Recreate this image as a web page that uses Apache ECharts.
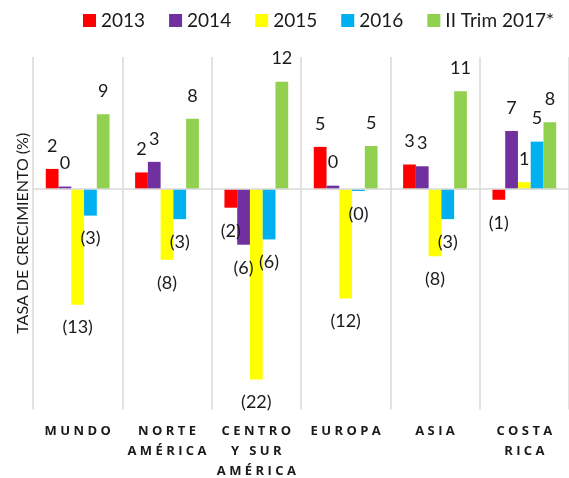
<!DOCTYPE html>
<html>
<head>
<meta charset="utf-8">
<script src="https://cdn.jsdelivr.net/npm/echarts@6/dist/echarts.min.js"></script>
<style>
  html, body { margin: 0; padding: 0; background: #fff; }
  #chart { width: 569px; height: 478px; }
</style>
</head>
<body>
<div id="chart"></div>
<script>
const regions = ['MUNDO', 'NORTE\nAMÉRICA', 'CENTRO\nY SUR\nAMÉRICA', 'EUROPA', 'ASIA', 'COSTA\nRICA']
const seriesNames = ['2013', '2014', '2015', '2016', 'II Trim 2017*']
const colors = ['#FF0000', '#7030A0', '#FFFF00', '#00B0F0', '#92D050']

// growth rates, one array per year
const v2013 = [2.3, 1.9, -2.1, 4.8, 2.8, -1.2]
const v2014 = [0.3, 3.1, -6.3, 0.4, 2.6, 6.6]
const v2015 = [-13.1, -8.0, -21.6, -12.4, -7.6, 0.8]
const v2016 = [-3.0, -3.4, -5.7, -0.2, -3.4, 5.4]
const v2017 = [8.5, 8.0, 12.2, 4.9, 11.1, 7.6]
const values = [v2013, v2014, v2015, v2016, v2017]

const font = 'Lato, "Open Sans", sans-serif'
const ink = '#1a1a1a'
const rule = '#d9d9d9'

// excel style: negatives in brackets, rounded to whole numbers
function fmt(v) {
  return v < 0 ? '(' + Math.round(-v) + ')' : String(Math.round(v))
}

// letter-spaced caps for the category labels
function spaced(s) {
  return s.split('\n')
    .map(line => line.split('').map(c => '{c|' + c + '}').join(''))
    .join('\n')
}

const chart = echarts.init(document.getElementById('chart'))

const series = values.map((arr, i) => ({
  name: seriesNames[i],
  type: 'bar',
  barGap: '0%',
  barCategoryGap: '28.6%',
  itemStyle: { color: colors[i] },
  data: arr.map(v => ({
    value: v,
    label: { position: v < 0 ? 'bottom' : 'top' }
  })),
  label: {
    show: true,
    distance: 14,
    fontFamily: font,
    fontSize: 18,
    color: ink,
    formatter: p => fmt(p.value)
  },
  markLine: i === 0 ? {
    silent: true,
    symbol: ['none', 'none'],
    label: { show: false },
    lineStyle: { color: rule, width: 1.5, type: 'solid' },
    data: [{ yAxis: 0 }]
  } : undefined
}))

chart.setOption({
  animation: false,
  textStyle: { fontFamily: font },
  legend: {
    left: 83,
    top: 11,
    padding: 0,
    itemWidth: 13,
    itemHeight: 13,
    itemGap: 24,
    icon: 'rect',
    selectedMode: false,
    textStyle: { fontFamily: font, fontSize: 19, color: ink },
    data: seriesNames
  },
  grid: { left: 33, right: -2, top: 57, bottom: 67 },
  xAxis: {
    type: 'category',
    data: regions,
    axisLine: { show: false, onZero: false },
    axisTick: { show: false },
    splitLine: { show: true, lineStyle: { color: rule, width: 1.5 } },
    axisLabel: {
      interval: 0,
      margin: 12,
      formatter: v => spaced(v),
      rich: {
        c: {
          fontFamily: '"Open Sans", Lato, sans-serif',
          fontWeight: 'bold',
          fontSize: 13,
          lineHeight: 20,
          padding: [0, 1.7],
          color: ink
        }
      }
    }
  },
  yAxis: {
    type: 'value',
    min: -25,
    max: 15,
    name: 'TASA DE CRECIMIENTO (%)',
    nameLocation: 'middle',
    nameGap: 2,
    nameTextStyle: { fontFamily: font, fontSize: 16, color: ink },
    axisLine: { show: false },
    axisTick: { show: false },
    axisLabel: { show: false },
    splitLine: { show: false }
  },
  series: series
})
</script>
</body>
</html>
